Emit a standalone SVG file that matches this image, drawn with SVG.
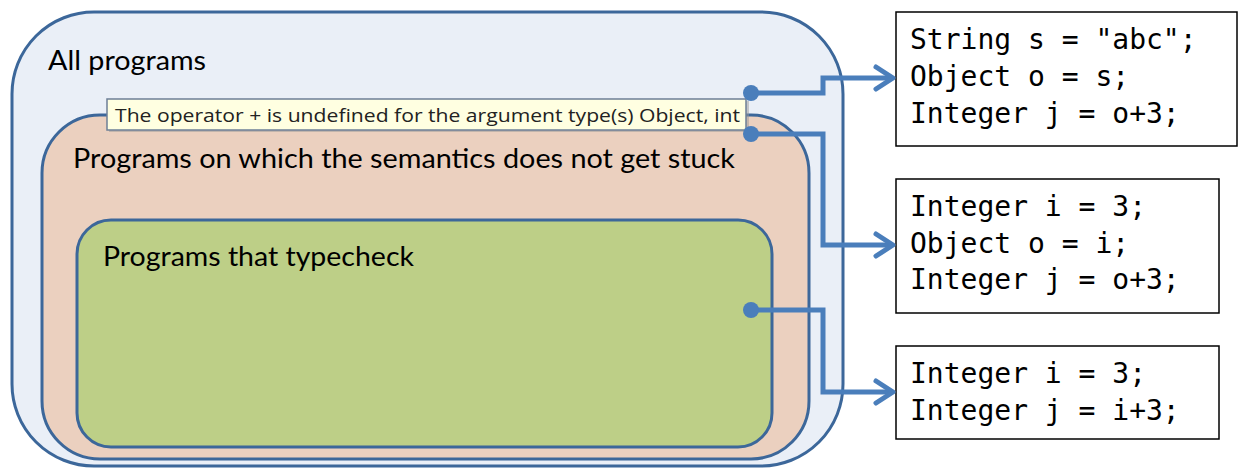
<svg xmlns="http://www.w3.org/2000/svg" width="1239" height="470" viewBox="0 0 1239 470">
<style>
.region{stroke:#3C679A;stroke-width:3}
.lbl{font-family:Lato,"Liberation Sans",sans-serif;font-size:26px;fill:#000}
.code{font-family:"DejaVu Sans Mono","Liberation Mono",monospace;font-size:28px;fill:#000}
.box{fill:#fff;stroke:#000;stroke-width:1.5}
.conn{fill:none;stroke:#4A7EBB;stroke-width:5;stroke-linejoin:miter}
.dot{fill:#4A7EBB}
.tip{font-family:"Open Sans","Noto Sans","Liberation Sans",sans-serif;font-size:18px;fill:#222}
</style>
<defs>
<marker id="arrow" markerUnits="userSpaceOnUse" viewBox="-24 -16 30 32" refX="0" refY="0" markerWidth="30" markerHeight="32" orient="auto">
<path d="M-17 -11 L0 0 L-17 11" fill="none" stroke="#4A7EBB" stroke-width="5" stroke-linecap="round" stroke-linejoin="round"/>
</marker>
</defs>
<rect width="1239" height="470" fill="#fff"/>
<g id="all-programs">
<rect class="region" x="12" y="12" width="831" height="454" rx="82" ry="82" fill="#EAEFF7"/>
<text class="lbl" x="48" y="70" textLength="158" lengthAdjust="spacingAndGlyphs">All programs</text>
</g>
<g id="not-stuck">
<rect class="region" x="42" y="115" width="767" height="344" rx="58" ry="58" fill="#EBD0BF"/>
<text class="lbl" x="73" y="168" textLength="662" lengthAdjust="spacingAndGlyphs">Programs on which the semantics does not get stuck</text>
</g>
<g id="typecheck">
<rect class="region" x="77" y="220" width="695" height="227" rx="34" ry="34" fill="#BDCF87"/>
<text class="lbl" x="103" y="266" textLength="311" lengthAdjust="spacingAndGlyphs">Programs that typecheck</text>
</g>
<g id="tooltip">
<rect x="109" y="101" width="640" height="31" fill="#9a9a9a" opacity="0.5"/>
<rect x="107" y="99" width="639" height="31" fill="#FFFFE1" stroke="#6d7f96" stroke-width="1.5"/>
<text class="tip" x="115" y="122" textLength="625" lengthAdjust="spacingAndGlyphs">The operator + is undefined for the argument type(s) Object, int</text>
</g>
<g id="code1">
<rect class="box" x="896" y="12" width="341" height="134"/>
<text class="code" x="910" y="49">String s = "abc";</text>
<text class="code" x="910" y="86">Object o = s;</text>
<text class="code" x="910" y="123">Integer j = o+3;</text>
</g>
<g id="code2">
<rect class="box" x="896" y="179" width="323" height="134"/>
<text class="code" x="910" y="216">Integer i = 3;</text>
<text class="code" x="910" y="253">Object o = i;</text>
<text class="code" x="910" y="289">Integer j = o+3;</text>
</g>
<g id="code3">
<rect class="box" x="896" y="346" width="323" height="93"/>
<text class="code" x="910" y="383">Integer i = 3;</text>
<text class="code" x="910" y="420">Integer j = i+3;</text>
</g>
<g id="connectors">
<path class="conn" d="M751 93 H823 V78 H893" marker-end="url(#arrow)"/>
<path class="conn" d="M751 134 H823 V245 H893" marker-end="url(#arrow)"/>
<path class="conn" d="M751 310 H823 V392 H893" marker-end="url(#arrow)"/>
<circle class="dot" cx="751" cy="93" r="8"/>
<circle class="dot" cx="751" cy="134" r="8"/>
<circle class="dot" cx="751" cy="310" r="8"/>
</g>
</svg>
